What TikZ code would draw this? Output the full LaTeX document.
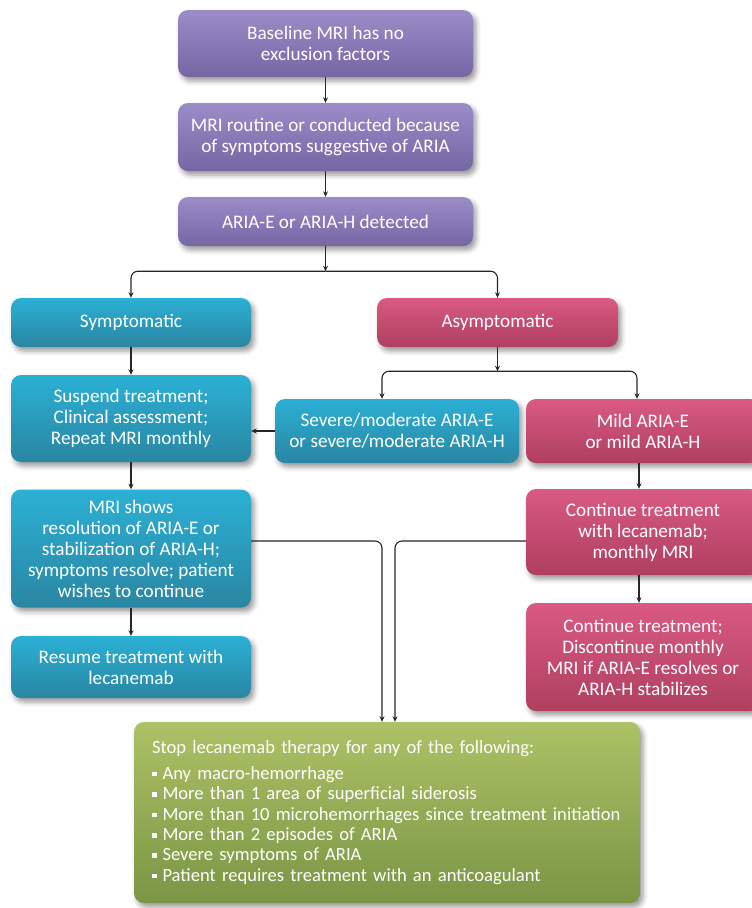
\documentclass[tikz,border=0pt]{standalone}
\usepackage{fontspec}
\setmainfont{Carlito}
\usetikzlibrary{arrows.meta,shadows.blur}
\definecolor{violetTop}{HTML}{9A8DC8}
\definecolor{violetBot}{HTML}{7566A4}
\definecolor{blueTop}{HTML}{2BB0D5}
\definecolor{blueBot}{HTML}{2A86A2}
\definecolor{pinkTop}{HTML}{DA5A82}
\definecolor{pinkBot}{HTML}{AE3F5F}
\definecolor{greenTop}{HTML}{ADC266}
\definecolor{greenBot}{HTML}{7A9545}
\newcommand{\sqbullet}{\rule[3pt]{4.5pt}{4.5pt}\hspace{6pt}}
\begin{document}
\begin{tikzpicture}[x=1pt,y=-1pt,
  every node/.style={font=\fontsize{19.2}{21}\selectfont},
  box/.style={rectangle, rounded corners=10pt, text=white, align=center, inner sep=2pt,
    blur shadow={shadow xshift=3pt, shadow yshift=-4pt, shadow blur radius=5pt, shadow opacity=40}},
  violetbox/.style={box, top color=violetTop, bottom color=violetBot},
  bluebox/.style={box, top color=blueTop, bottom color=blueBot},
  pinkbox/.style={box, top color=pinkTop, bottom color=pinkBot},
  greenbox/.style={box, top color=greenTop, bottom color=greenBot},
  link/.style={draw=black!85, line width=1.1pt, -{Stealth[length=5.5pt,width=5pt]}},
  fork/.style={link, rounded corners=7pt}]
\useasboundingbox (0,0) rectangle (752,908);
\foreach \n/\x/\y/\w/\h/\t in {
  base/325.5/43.5/295/67/{Baseline MRI has no\\exclusion factors},
  routine/325.5/137/295/68/{MRI routine or conducted because\\of symptoms suggestive of ARIA},
  detect/325.5/221.5/295/49/{ARIA-E or ARIA-H detected}}
  \node[violetbox, minimum width=\w, minimum height=\h] (\n) at (\x,\y) {\t};
\foreach \n/\x/\y/\w/\h/\t in {
  symp/131/322.5/240/49/{Symptomatic},
  suspend/131/418.5/240/87/{Suspend treatment;\\Clinical assessment;\\Repeat MRI monthly},
  severe/397/431/244/64/{Severe/moderate ARIA-E\\or severe/moderate ARIA-H},
  shows/131/548.5/240/118/{MRI shows\\resolution of ARIA-E or\\stabilization of ARIA-H;\\symptoms resolve; patient\\wishes to continue},
  resume/131/667/240/62/{Resume treatment with\\lecanemab}}
  \node[bluebox, minimum width=\w, minimum height=\h] (\n) at (\x,\y) {\t};
\foreach \n/\x/\y/\w/\h/\t in {
  asymp/497.5/322.5/241/49/{Asymptomatic},
  mild/643/431/234/64/{Mild ARIA-E\\or mild ARIA-H},
  cont/643/532/234/86/{Continue treatment\\with lecanemab;\\monthly MRI},
  disc/643/657/234/108/{Continue treatment;\\Discontinue monthly\\MRI if ARIA-E resolves or\\ARIA-H stabilizes}}
  \node[pinkbox, minimum width=\w, minimum height=\h] (\n) at (\x,\y) {\t};
\node[greenbox, minimum width=506, minimum height=181, text width=470, align=left,
  font=\fontsize{18.6}{20.4}\selectfont] (stop) at (387,812.5)
  {Stop lecanemab therapy for any of the following:\\[5.5pt]
   \sqbullet Any macro-hemorrhage\\
   \sqbullet More than 1 area of superficial siderosis\\
   \sqbullet More than 10 microhemorrhages since treatment initiation\\
   \sqbullet More than 2 episodes of ARIA\\
   \sqbullet Severe symptoms of ARIA\\
   \sqbullet Patient requires treatment with an anticoagulant};
% top of the chart
\draw[link] (base) -- (routine);
\draw[link] (routine) -- (detect);
\coordinate (split) at ([yshift=-25pt]detect.south);
\draw[link] (detect) -- (split);
\draw[fork] (split) -| (symp);
\draw[fork] (split) -| (asymp);
% asymptomatic branch
\coordinate (split2) at ([yshift=-24pt]asymp.south);
\draw[link] (asymp) -- (split2);
\draw[fork] (split2) -| ([xshift=-15pt]severe.north);
\draw[fork] (split2) -| ([xshift=-6pt]mild.north);
\draw[link] (severe) -- (severe -| suspend.east);
\draw[link] ([xshift=-4pt]mild.south) -- ([xshift=-4pt]cont.north);
\draw[link] ([xshift=-4pt]cont.south) -- ([xshift=-4pt]disc.north);
% symptomatic branch
\draw[link] (symp) -- (suspend);
\draw[link] (suspend) -- (shows);
\draw[link] (shows) -- (resume);
% to the stop box
\draw[fork] ([yshift=7.5pt]shows.east) -| ([xshift=-5pt]stop.north);
\draw[fork] ([yshift=-9pt]cont.west) -| ([xshift=8pt]stop.north);
\end{tikzpicture}
\end{document}
